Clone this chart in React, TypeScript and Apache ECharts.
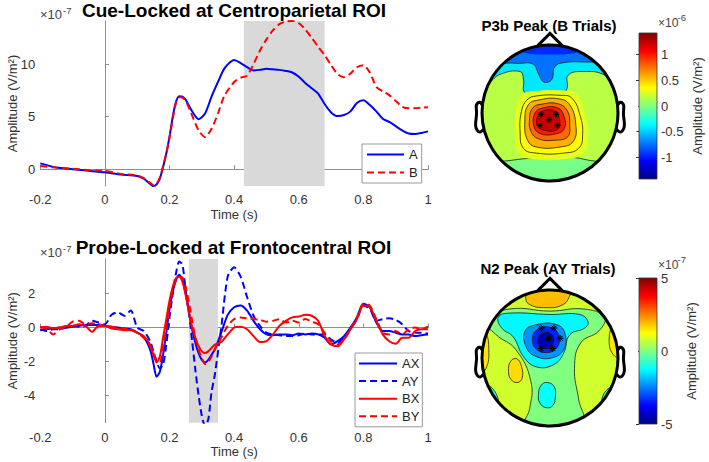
import React, { useEffect, useRef } from "react";
import * as echarts from "echarts";

// ---------------- Line charts data (values in 1e-7 V/m^2) ----------------
const TIME_CUE = [-0.2, -0.15, -0.1, -0.05, 0, 0.05, 0.1, 0.12, 0.14, 0.15, 0.16, 0.17, 0.18, 0.19, 0.2, 0.21, 0.22, 0.23, 0.24, 0.25, 0.27, 0.29, 0.31, 0.33, 0.35, 0.37, 0.4, 0.42, 0.44, 0.46, 0.48, 0.5, 0.52, 0.54, 0.56, 0.58, 0.6, 0.62, 0.64, 0.66, 0.68, 0.7, 0.72, 0.74, 0.76, 0.78, 0.8, 0.82, 0.84, 0.86, 0.88, 0.9, 0.92, 0.94, 0.96, 0.98, 1.0];
const CUE_A = [0.55, 0.15, 0.0, -0.15, -0.3, -0.5, -0.65, -0.9, -1.4, -1.6, -1.45, -0.9, 0.2, 1.5, 3.1, 5.0, 6.4, 6.95, 6.9, 6.6, 5.5, 4.75, 5.3, 6.9, 8.3, 9.6, 10.4, 10.1, 9.7, 9.4, 9.45, 9.55, 9.5, 9.45, 9.35, 9.2, 8.8, 8.2, 7.7, 7.2, 6.2, 5.4, 5.05, 5.15, 5.5, 6.3, 6.55, 6.1, 5.5, 4.8, 4.5, 4.1, 3.7, 3.4, 3.35, 3.45, 3.6];
const CUE_B = [0.3, 0.15, 0.05, -0.1, -0.15, -0.45, -0.6, -0.85, -1.3, -1.5, -1.35, -0.8, 0.3, 1.5, 3.0, 4.8, 6.3, 6.85, 6.8, 6.5, 5.1, 3.7, 3.05, 3.85, 5.3, 7.0, 8.3, 8.7, 8.9, 10.0, 11.3, 12.35, 13.2, 13.8, 14.05, 14.1, 13.9, 13.3, 12.5, 11.65, 10.85, 9.9, 9.05, 8.75, 9.1, 9.7, 9.9, 9.2, 7.85, 7.4, 7.05, 6.5, 5.95, 5.8, 5.8, 5.85, 5.9];
const CUE_WINDOW = [0.43, 0.68];
const CUE_Y_RANGE = [-1.6, 14.1];
const CUE_Y_TICKS = [0, 5, 10];

const TIME_PROBE = [-0.2, -0.18, -0.16, -0.14, -0.12, -0.1, -0.08, -0.06, -0.04, -0.02, 0, 0.02, 0.04, 0.06, 0.08, 0.1, 0.12, 0.14,
  0.15, 0.16, 0.17, 0.18, 0.19, 0.2, 0.21, 0.22, 0.23, 0.24, 0.25, 0.26, 0.27, 0.28, 0.29, 0.3, 0.31, 0.32, 0.33,
  0.34, 0.36, 0.38, 0.4, 0.42, 0.44, 0.46, 0.48, 0.5, 0.52, 0.54, 0.56, 0.58, 0.6, 0.62, 0.64, 0.66, 0.68, 0.7, 0.72, 0.74, 0.76, 0.78, 0.8, 0.82, 0.84, 0.86, 0.88, 0.9, 0.92, 0.94, 0.96, 0.98, 1.0];
const PROBE_AX = [-0.15, -0.1, -0.05, 0, 0, 0.05, 0.1, 0.15, 0.15, 0.15, 0.1, 0.05, 0, -0.05, -0.1, -0.3, -0.55, -1.3,
  -2.1, -2.9, -2.6, -1.6, -0.3, 1.1, 2.1, 2.8, 3.1, 2.8, 2.0, 0.9, -0.1, -0.9, -1.5, -1.9, -2.05, -1.9, -1.6,
  -1.3, -0.3, 0.75, 1.2, 1.3, 1.0, 0.4, -0.1, -0.4, -0.45, -0.4, -0.4, -0.45, -0.35, -0.4, -0.35, -0.4, -0.6, -1.0, -0.8, -0.5, 0.0, 0.6, 1.4, 1.2, 0.3, -0.2, -0.2, -0.3, -0.4, -0.4, -0.5, -0.45, -0.4];
const PROBE_AY = [-0.1, -0.2, -0.1, -0.1, 0.0, 0.1, 0.05, 0.1, 0.4, 0.3, 0.2, 0.75, 0.9, 0.7, 1.0, 0.0, -0.2, -0.8,
  -1.4, -2.0, -2.4, -2.2, -1.0, 0.6, 2.0, 3.2, 3.9, 3.7, 2.2, 0.9, -0.8, -2.5, -4.0, -5.2, -5.8, -5.4, -3.8,
  -2.8, 0.0, 3.0, 3.55, 3.0, 1.8, 0.7, 0.1, -0.3, -0.4, -0.45, -0.5, -0.5, -0.45, -0.35, -0.4, -0.4, -0.4, -0.7, -0.9, -0.6, -0.1, 0.5, 1.3, 1.1, 0.4, 0.5, 0.55, 0.45, 0.2, -0.2, -0.3, -0.3, -0.35];
const PROBE_BX = [0.0, 0.05, -0.05, 0.0, 0.1, 0.1, 0.2, 0.1, -0.25, 0.1, 0.1, -0.05, -0.1, -0.15, -0.15, -0.3, -0.5, -1.0,
  -1.6, -2.05, -1.7, -0.6, 0.5, 1.6, 2.4, 2.9, 3.0, 2.7, 1.9, 0.9, 0.0, -0.6, -1.1, -1.4, -1.5, -1.4, -1.2,
  -1.0, -0.85, -0.4, 0.0, 0.05, -0.1, -0.5, -0.85, -0.8, -0.4, 0.1, 0.4, 0.6, 0.65, 0.75, 0.7, 0.4, -0.5, -1.0, -1.1, -0.7, -0.1, 0.5, 1.3, 1.2, 0.4, -0.4, -0.8, -0.95, -0.6, -0.6, -0.2, -0.1, -0.1];
const PROBE_BY = [0.05, -0.1, -0.4, -0.1, 0.05, 0.35, 0.4, 0.2, 0.25, 0.2, 0.1, 0.05, 0.0, -0.05, -0.1, -0.3, -0.6, -1.1,
  -1.5, -1.9, -2.0, -1.2, 0.0, 1.2, 2.2, 2.8, 3.0, 2.95, 2.4, 1.5, 0.4, -0.6, -1.3, -1.8, -2.15, -2.05, -1.7,
  -1.3, -0.6, 0.1, 0.5, 0.6, 0.55, 0.5, 0.45, 0.35, 0.4, 0.5, 0.3, 0.4, 0.3, 0.5, 0.35, 0.2, -0.3, -0.8, -1.0, -0.7, -0.1, 0.6, 1.4, 1.3, 0.5, -0.3, -0.4, -0.2, -0.4, -0.1, 0.0, -0.1, 0.05];
const PROBE_WINDOW = [0.26, 0.35];
const PROBE_Y_RANGE = [-5.6, 4.04];
const PROBE_Y_TICKS = [-4, -2, 0, 2];

const X_RANGE = [-0.2, 1];

// ---------------- Topographic maps (head units: radius 1) ----------------
// P3b map, values in 1e-6 V/m^2
const P3B_RANGE = [-1.42, 1.42];
const P3B_TICKS = [-1, -0.5, 0, 0.5, 1];
const P3B_LEVELS = [0.16, -0.02, -0.42, -0.75, -0.95, 0.28, 0.36, 0.58, 0.78, 1.0, 1.22];
const P3B_CONTOURED = [0, 1, 1, 1, 0, 0, 1, 1, 1, 1, 1];
const P3B_SHAPES = [
  [[1.15, 0], [0.81, 0.81], [0, 1.15], [-0.81, 0.81], [-1.15, 0], [-0.81, -0.81], [0, -1.15], [0.81, -0.81]],
  [[-0.85, -0.75], [-0.6, -0.7], [-0.2, -0.66], [0.29, -0.65], [0.6, -0.7], [0.85, -0.75], [0.45, -1.0], [-0.45, -1.0]],
  [[-1.05, 0.36], [-0.9, 0.44], [-0.73, 0.57], [-0.44, 0.61], [-0.39, 0.5], [-0.37, 0.3], [-0.15, 0.26], [0.17, 0.28], [0.25, 0.36], [0.27, 0.56], [0.54, 0.61], [0.78, 0.57], [0.93, 0.44], [1.05, 0.36], [0.85, 0.7], [0.45, 1.0], [-0.45, 1.0], [-0.85, 0.7]],
  [[-0.95, 0.62], [-0.71, 0.72], [-0.45, 0.73], [-0.25, 0.72], [-0.18, 0.6], [-0.12, 0.48], [-0.05, 0.45], [0.03, 0.5], [0.07, 0.68], [0.2, 0.74], [0.5, 0.75], [0.71, 0.73], [0.95, 0.62], [0.6, 0.95], [0, 1.08], [-0.6, 0.95]],
  [[-0.45, 0.9], [0, 0.86], [0.45, 0.9], [0.5, 0.98], [0, 1.08], [-0.5, 0.98]],
  [[-0.25, 0.32], [0.2, 0.33], [0.4, 0.27], [0.52, -0.03], [0.56, -0.35], [0.48, -0.6], [0.2, -0.68], [-0.22, -0.68], [-0.45, -0.6], [-0.52, -0.27], [-0.5, 0.05], [-0.42, 0.26]],
  [[-0.2, 0.25], [0.15, 0.26], [0.32, 0.22], [0.44, -0.03], [0.48, -0.32], [0.42, -0.52], [0.2, -0.59], [-0.2, -0.59], [-0.39, -0.52], [-0.44, -0.27], [-0.42, 0.02], [-0.34, 0.19]],
  [[-0.17, 0.19], [0.12, 0.21], [0.29, 0.12], [0.38, -0.18], [0.34, -0.42], [0.15, -0.5], [-0.2, -0.5], [-0.33, -0.4], [-0.37, -0.13], [-0.32, 0.12]],
  [[-0.12, 0.13], [0.1, 0.14], [0.25, 0.04], [0.29, -0.18], [0.26, -0.35], [0.07, -0.4], [-0.17, -0.38], [-0.28, -0.27], [-0.3, -0.08], [-0.25, 0.08]],
  [[-0.12, 0.07], [0.1, 0.08], [0.2, -0.03], [0.21, -0.23], [0.07, -0.31], [-0.15, -0.3], [-0.24, -0.18], [-0.22, 0]],
  [[-0.1, 0.03], [0.07, 0.03], [0.14, -0.1], [0.11, -0.24], [-0.05, -0.26], [-0.17, -0.2], [-0.19, -0.07]],
];
const P3B_ELECTRODES = [[-0.13, -0.02], [0.09, -0.02], [-0.015, -0.1], [-0.15, -0.18], [0.11, -0.18]];

// N2 map, values in 1e-7 V/m^2
const N2_RANGE = [-5, 5];
const N2_TICKS = [-5, 0, 5];
const N2_LEVELS = [0.8, 0.0, 1.9, 1.5, 1.5, -1.3, -2.3, -3.4, -4.5, 1.6, -1.2, -1.0, -1.0];
const N2_CONTOURED = [0, 1, 1, 1, 1, 1, 1, 1, 1, 1, 1, 1, 1];
const N2_SHAPES = [
  [[1.15, 0], [0.81, 0.81], [0, 1.15], [-0.81, 0.81], [-1.15, 0], [-0.81, -0.81], [0, -1.15], [0.81, -0.81]],
  [[-0.95, 0.55], [-0.6, 0.72], [0, 0.69], [0.5, 0.72], [0.8, 0.6], [0.72, 0.4], [0.45, 0.22], [0.36, -0.15], [0.42, -0.6], [0.48, -1.0], [-0.38, -1.02], [-0.3, -0.75], [-0.28, -0.35], [-0.5, 0.12], [-0.8, 0.35]],
  [[-0.42, 1.05], [-0.37, 0.95], [-0.32, 0.8], [-0.05, 0.74], [0.2, 0.79], [0.3, 0.93], [0.36, 1.04]],
  [[-1.06, 0.42], [-0.95, 0.38], [-0.9, 0.12], [-0.94, -0.15], [-1.06, -0.25]],
  [[1.0, 0.55], [0.93, 0.5], [0.87, 0.28], [0.93, 0.05], [1.08, 0.0]],
  [[-0.76, 0.6], [-0.6, 0.66], [0, 0.64], [0.44, 0.64], [0.56, 0.53], [0.51, 0.44], [0.29, 0.34], [0.2, 0.07], [0.05, -0.1], [-0.2, -0.13], [-0.39, 0.02], [-0.54, 0.31], [-0.71, 0.44]],
  [[-0.37, 0.39], [-0.2, 0.49], [0.1, 0.49], [0.22, 0.36], [0.2, 0.12], [0.02, 0], [-0.2, 0.02], [-0.34, 0.14]],
  [[-0.26, 0.27], [-0.2, 0.41], [-0.06, 0.46], [0.08, 0.41], [0.14, 0.27], [0.08, 0.13], [-0.06, 0.08], [-0.2, 0.13]],
  [[-0.18, 0.26], [-0.14, 0.35], [-0.06, 0.38], [0.02, 0.35], [0.06, 0.26], [0.02, 0.17], [-0.06, 0.14], [-0.14, 0.17]],
  [[-0.61, -0.2], [-0.58, -0.05], [-0.49, -0.01], [-0.42, -0.12], [-0.41, -0.3], [-0.48, -0.36], [-0.57, -0.32]],
  [[-0.17, -0.54], [-0.13, -0.4], [-0.04, -0.36], [0.06, -0.42], [0.08, -0.56], [0.04, -0.7], [-0.06, -0.73], [-0.15, -0.66]],
  [[-1.06, -0.3], [-0.92, -0.38], [-0.78, -0.55], [-0.76, -0.74], [-0.78, -0.82]],
  [[1.06, -0.3], [0.92, -0.4], [0.78, -0.55], [0.77, -0.75], [0.78, -0.82]],
];
const N2_ELECTRODES = [[-0.13, 0.44], [0.06, 0.44], [0.15, 0.29], [-0.02, 0.29], [-0.13, 0.14], [0.04, 0.14]];

// head outline geometry (head units)
const NOSE = [[0.18, 0.99], [0, 1.17], [-0.18, 0.99]];
const EAR = [[0.994, 0.111], [1.02, 0.155], [1.036, 0.157], [1.06, 0.149], [1.084, 0.111], [1.08, -0.011], [1.094, -0.186], [1.064, -0.263], [1.02, -0.277], [0.978, -0.24]];

const JET = ["#000080", "#0000ff", "#0080ff", "#00ffff", "#80ff80", "#ffff00", "#ff8000", "#ff0000", "#800000"];

const FONT = '"Liberation Sans", Arial, Helvetica, sans-serif';
const AXIS_GRAY = "#8f8f8f";
const LABEL = "#333333";

const pairs = (t: number[], v: number[]) => t.map((x, i) => [x, v[i]]);

function regionRenderer(shapes: number[][][], contoured: number[]) {
  return (params: any, api: any) => {
    const i = api.value(0);
    const pts = shapes[i].map((p) => api.coord(p));
    return {
      type: "polygon",
      shape: { points: pts, smooth: 0.45 },
      style: {
        fill: api.visual("color"),
        stroke: contoured[i] ? "#1c1c1c" : null,
        lineWidth: 0.8,
      },
    };
  };
}

function headRenderer(params: any, api: any) {
  const c = api.coord([0, 0]);
  const r = api.size([1, 1])[0];
  const px = (p: number[]) => api.coord(p);
  const stroke = { stroke: "#000", fill: null, lineWidth: 3 };
  return {
    type: "group",
    children: [
      { type: "ring", shape: { cx: c[0], cy: c[1], r: r * 1.3, r0: r }, style: { fill: "#fff" } },
      { type: "circle", shape: { cx: c[0], cy: c[1], r }, style: { ...stroke } },
      { type: "polyline", shape: { points: NOSE.map(px) }, style: { ...stroke, lineJoin: "miter" } },
      { type: "polyline", shape: { points: EAR.map(px), smooth: 0.3 }, style: { ...stroke } },
      { type: "polyline", shape: { points: EAR.map(([x, y]) => px([-x, y])), smooth: 0.3 }, style: { ...stroke } },
    ],
  };
}

function electrodeRenderer(params: any, api: any) {
  const p = api.coord([api.value(0), api.value(1)]);
  const s = 3.3;
  const d = s * 0.72;
  const seg = (dx: number, dy: number) => ({
    type: "line",
    shape: { x1: p[0] - dx, y1: p[1] - dy, x2: p[0] + dx, y2: p[1] + dy },
    style: { stroke: "#000", lineWidth: 1 },
  });
  return { type: "group", children: [seg(s, 0), seg(0, s), seg(d, d), seg(d, -d)] };
}

function colorbarRenderer(range: number[]) {
  return (params: any, api: any) => {
    const a = api.coord([0, range[1]]);
    const b = api.coord([1, range[0]]);
    return {
      type: "rect",
      shape: { x: a[0], y: a[1], width: b[0] - a[0], height: b[1] - a[1] },
      style: {
        fill: new echarts.graphic.LinearGradient(0, 0, 0, 1, [
          { offset: 0, color: "#800000" },
          { offset: 0.125, color: "#ff0000" },
          { offset: 0.375, color: "#ffff00" },
          { offset: 0.5, color: "#80ff80" },
          { offset: 0.625, color: "#00ffff" },
          { offset: 0.875, color: "#0000ff" },
          { offset: 1, color: "#000080" },
        ]),
        stroke: "#333",
        lineWidth: 0.8,
      },
    };
  };
}

function lineSeries(name: string, t: number[], v: number[], color: string, dashed: boolean, idx: number, extra: any = {}) {
  return {
    type: "line",
    name,
    xAxisIndex: idx,
    yAxisIndex: idx,
    data: pairs(t, v),
    symbol: "none",
    showSymbol: false,
    smooth: 0.25,
    z: 3,
    lineStyle: { color, width: 2, type: dashed ? [7, 4] : "solid" },
    itemStyle: { color },
    ...extra,
  };
}

function lineXAxis(gridIndex: number, labelMargin: number) {
  return {
    gridIndex,
    type: "value",
    min: X_RANGE[0],
    max: X_RANGE[1],
    interval: 0.2,
    axisLine: { show: true, lineStyle: { color: AXIS_GRAY, width: 1 } },
    axisTick: { show: true, inside: true, length: 4, lineStyle: { color: AXIS_GRAY } },
    axisLabel: { color: LABEL, fontSize: 13, margin: labelMargin, fontFamily: FONT },
    splitLine: { show: false },
    name: "Time (s)",
    nameLocation: "middle",
    nameGap: 22,
    nameMoveOverlap: false,
    nameTextStyle: { color: LABEL, fontSize: 13, fontFamily: FONT },
  };
}

function lineYAxis(gridIndex: number, range: number[], ticks: number[]) {
  return {
    gridIndex,
    type: "value",
    min: range[0],
    max: range[1],
    axisLine: { show: true, lineStyle: { color: AXIS_GRAY, width: 1 } },
    axisTick: { show: true, inside: true, length: 4, customValues: ticks, lineStyle: { color: AXIS_GRAY } },
    axisLabel: { color: LABEL, fontSize: 13, margin: 5, customValues: ticks, fontFamily: FONT },
    splitLine: { show: false },
    name: "Amplitude (V/m²)",
    nameLocation: "middle",
    nameGap: 21,
    nameRotate: 90,
    nameMoveOverlap: false,
    nameTextStyle: { color: LABEL, fontSize: 13, fontFamily: FONT },
  };
}

function hiddenAxis(gridIndex: number, min: number, max: number) {
  return { gridIndex, type: "value", min, max, show: false, splitLine: { show: false } };
}

function cbarYAxis(gridIndex: number, range: number[], ticks: number[], nameGap: number) {
  return {
    gridIndex,
    type: "value",
    position: "right",
    min: range[0],
    max: range[1],
    axisLine: { show: false },
    axisTick: { show: true, inside: true, length: 3, customValues: ticks, lineStyle: { color: "#333" } },
    axisLabel: { color: LABEL, fontSize: 13, margin: 4, customValues: ticks, fontFamily: FONT },
    splitLine: { show: false },
    name: "Amplitude (V/m²)",
    nameLocation: "middle",
    nameGap,
    nameRotate: 90,
    nameMoveOverlap: false,
    nameTextStyle: { color: LABEL, fontSize: 13, fontFamily: FONT },
  };
}

function txt(text: string, x: number, y: number, size: number, extra: any = {}) {
  return {
    type: "text",
    x,
    y,
    z: 100,
    style: {
      text,
      fontSize: size,
      fontFamily: FONT,
      fill: "#444",
      align: "left",
      verticalAlign: "middle",
      ...extra,
    },
  };
}

const gridBox = (left: number, top: number, width: number, height: number) => ({
  left, top, width, height, containLabel: false, outerBoundsMode: "none",
});

const legendBase = {
  orient: "vertical",
  borderColor: "#9a9a9a",
  borderWidth: 1,
  backgroundColor: "#fff",
  selectedMode: false,
  itemStyle: { opacity: 0 },
  textStyle: { fontSize: 13, color: "#222", fontFamily: FONT },
};

export default function App() {
  const ref = useRef<HTMLDivElement>(null);
  useEffect(() => {
    if (!ref.current) return;
    const chart = echarts.init(ref.current, undefined, { renderer: "svg" });
    const bold = { fontWeight: "bold", fill: "#000", align: "center" };
    const option: any = {
      animation: false,
      textStyle: { fontFamily: FONT },
      grid: [
        gridBox(40.3, 21, 387.7, 165),
        gridBox(40.3, 259, 387.7, 163.7),
        gridBox(482, 45, 136, 136),
        gridBox(639, 33, 18, 146),
        gridBox(482, 290, 136, 136),
        gridBox(639, 278, 18, 146),
      ],
      xAxis: [
        lineXAxis(0, 7),
        lineXAxis(1, 8),
        hiddenAxis(2, -1, 1),
        hiddenAxis(3, 0, 1),
        hiddenAxis(4, -1, 1),
        hiddenAxis(5, 0, 1),
      ],
      yAxis: [
        lineYAxis(0, CUE_Y_RANGE, CUE_Y_TICKS),
        lineYAxis(1, PROBE_Y_RANGE, PROBE_Y_TICKS),
        hiddenAxis(2, -1, 1),
        cbarYAxis(3, P3B_RANGE, P3B_TICKS, 34),
        hiddenAxis(4, -1, 1),
        cbarYAxis(5, N2_RANGE, N2_TICKS, 28),
      ],
      legend: [
        {
          ...legendBase,
          data: ["A", "B"],
          left: 362,
          top: 144,
          itemWidth: 37,
          itemHeight: 10,
          itemGap: 5,
          padding: [4, 4, 4, 4],
        },
        {
          ...legendBase,
          data: ["AX", "AY", "BX", "BY"],
          left: 355,
          top: 353,
          itemWidth: 38,
          itemHeight: 10,
          itemGap: 4.6,
          padding: [4, 3, 4, 3],
        },
      ],
      visualMap: [
        { type: "continuous", show: false, seriesIndex: 6, dimension: 1, min: P3B_RANGE[0], max: P3B_RANGE[1], inRange: { color: JET } },
        { type: "continuous", show: false, seriesIndex: 10, dimension: 1, min: N2_RANGE[0], max: N2_RANGE[1], inRange: { color: JET } },
      ],
      series: [
        lineSeries("A", TIME_CUE, CUE_A, "#0000ff", false, 0, {
          markArea: { silent: true, itemStyle: { color: "#d9d9d9", opacity: 1 }, data: [[{ xAxis: CUE_WINDOW[0] }, { xAxis: CUE_WINDOW[1] }]] },
        }),
        lineSeries("B", TIME_CUE, CUE_B, "#ff0000", true, 0),
        lineSeries("AX", TIME_PROBE, PROBE_AX, "#0000ff", false, 1, {
          markArea: { silent: true, itemStyle: { color: "#d9d9d9", opacity: 1 }, data: [[{ xAxis: PROBE_WINDOW[0] }, { xAxis: PROBE_WINDOW[1] }]] },
        }),
        lineSeries("AY", TIME_PROBE, PROBE_AY, "#0000ff", true, 1),
        lineSeries("BX", TIME_PROBE, PROBE_BX, "#ff0000", false, 1),
        lineSeries("BY", TIME_PROBE, PROBE_BY, "#ff0000", true, 1),
        // 6: P3b regions
        { type: "custom", xAxisIndex: 2, yAxisIndex: 2, z: 2, silent: true, data: P3B_LEVELS.map((v, i) => [i, v]), renderItem: regionRenderer(P3B_SHAPES, P3B_CONTOURED) },
        // 7: P3b head
        { type: "custom", xAxisIndex: 2, yAxisIndex: 2, z: 4, silent: true, data: [[0, 0]], renderItem: headRenderer },
        // 8: electrodes
        { type: "custom", xAxisIndex: 2, yAxisIndex: 2, z: 5, silent: true, data: P3B_ELECTRODES, renderItem: electrodeRenderer },
        // 9: colorbar
        { type: "custom", xAxisIndex: 3, yAxisIndex: 3, z: 2, silent: true, data: [[0, 0]], renderItem: colorbarRenderer(P3B_RANGE) },
        // 10: N2 regions
        { type: "custom", xAxisIndex: 4, yAxisIndex: 4, z: 2, silent: true, data: N2_LEVELS.map((v, i) => [i, v]), renderItem: regionRenderer(N2_SHAPES, N2_CONTOURED) },
        // 11: N2 head
        { type: "custom", xAxisIndex: 4, yAxisIndex: 4, z: 4, silent: true, data: [[0, 0]], renderItem: headRenderer },
        // 12: electrodes
        { type: "custom", xAxisIndex: 4, yAxisIndex: 4, z: 5, silent: true, data: N2_ELECTRODES, renderItem: electrodeRenderer },
        // 13: colorbar
        { type: "custom", xAxisIndex: 5, yAxisIndex: 5, z: 2, silent: true, data: [[0, 0]], renderItem: colorbarRenderer(N2_RANGE) },
      ],
      graphic: [
        txt("Cue-Locked at Centroparietal ROI", 234, 10.5, 19, bold),
        txt("Probe-Locked at Frontocentral ROI", 233.5, 247, 19, bold),
        txt("P3b Peak (B Trials)", 549, 25, 15, bold),
        txt("N2 Peak (AY Trials)", 548, 268, 15, bold),
        txt("×10", 40, 14.5, 13),
        txt("-7", 63, 10.5, 9.5),
        txt("×10", 40, 252.5, 13),
        txt("-7", 63, 248.5, 9.5),
        txt("×10", 658, 23, 12),
        txt("-6", 677.5, 17.5, 9.5),
        txt("×10", 658, 264.5, 12),
        txt("-7", 677.5, 259, 9.5),
      ],
    };
    chart.setOption(option);
    return () => chart.dispose();
  }, []);
  return <div ref={ref} style={{ position: "absolute", left: 0, top: 0, width: 709, height: 462 }} />;
}
